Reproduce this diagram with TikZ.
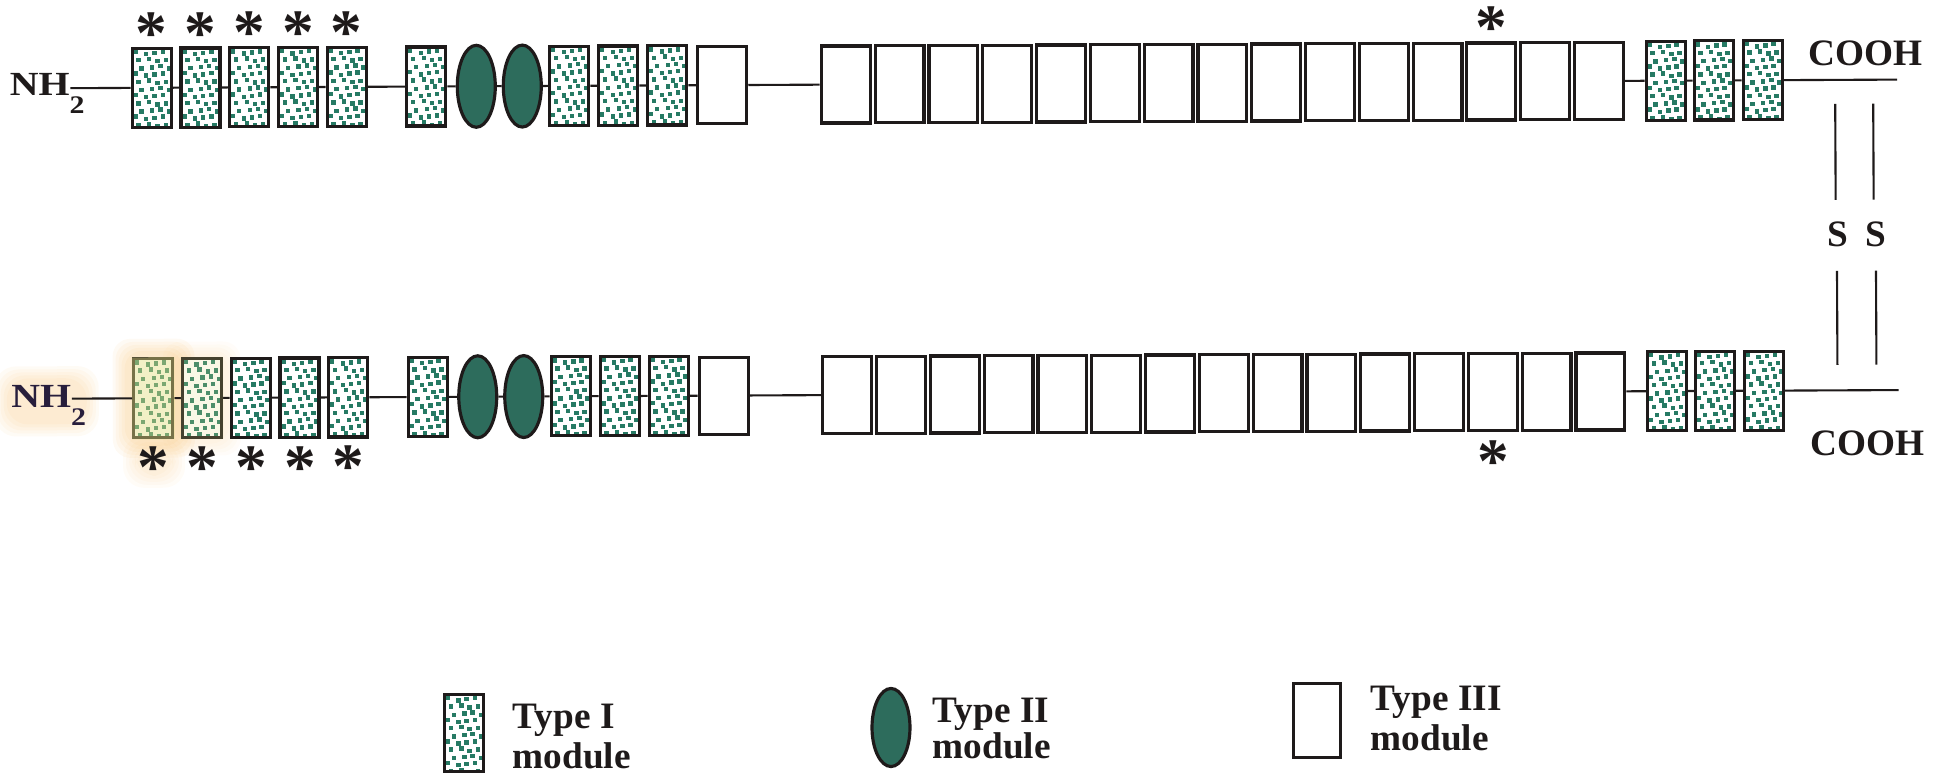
\documentclass[tikz,border=0pt]{standalone}
\usepackage{graphicx}
\usepackage{fontspec}
\setmainfont{Liberation Serif}
\usetikzlibrary{shapes.geometric}

\definecolor{modteal}{RGB}{45,108,92}
\definecolor{dotteal}{RGB}{38,122,100}
\definecolor{ink}{RGB}{30,26,26}
\definecolor{glowc}{RGB}{245,170,60}
\definecolor{tintc}{RGB}{228,222,130}

\tikzset{
  tone/.style={draw=ink, line width=0.9pt, fill=white, inner sep=0pt,
    minimum width=11.1pt, minimum height=22.5pt,
    path picture={
      \foreach \ii in {0,...,10}{
        \foreach \jj in {0,...,3}{
          \pgfmathsetmacro\dx{0.2845*(2+9*\jj+3*mod(\ii,3)+0.8*(mod(3*\ii+5*\jj,3)-1))}
          \pgfmathsetmacro\dy{0.2845*(2.5+7.2*\ii+1.1*(mod(\ii+2*\jj,3)-1))}
          \fill[dotteal] ([xshift=\dx pt,yshift=-\dy pt]path picture bounding box.north west)
            rectangle ++(1.25pt,-1.25pt);
        }}
    }},
  ttwo/.style={ellipse, draw=ink, line width=0.9pt, fill=modteal, inner sep=0pt,
    minimum width=10.8pt, minimum height=23.3pt},
  tthree/.style={draw=ink, line width=0.9pt, fill=white, inner sep=0pt,
    minimum width=13.9pt, minimum height=21.9pt},
  link/.style={draw=ink, line width=0.6pt},
  lbl/.style={text=ink, inner sep=0pt, font=\fontsize{10.6}{12}\selectfont\bfseries},
  nhlbl/.style={text=ink, inner sep=0pt, anchor=base east, font=\fontsize{9.6}{11}\selectfont\bfseries},
  star/.style={text=ink, inner sep=0pt, anchor=base, font=\fontsize{18}{18}\selectfont\bfseries},
}

% one fibronectin strand: #1 name prefix, #2 strand height, #3 asterisk row
\newcommand\fnstrand[3]{%
  \foreach \i in {1,...,5}{\node[tone] (#1a\i) at ({152.5+48.75*(\i-1)},#2) {};}
  \node[tone] (#1a6) at (427,#2) {};
  \node[ttwo] (#1e1) at (477,#2) {};
  \node[ttwo] (#1e2) at (523,#2) {};
  \foreach \i/\x in {7/570,8/619,9/668}{\node[tone] (#1a\i) at (\x,#2) {};}
  \node[tthree] (#1c0) at (723,#2) {};
  \foreach \i in {1,...,15}{\node[tthree] (#1c\i) at ({846.5+53.8*(\i-1)},#2) {};}
  \foreach \i/\x in {10/1666.5,11/1714.5,12/1763.5}{\node[tone] (#1a\i) at (\x,#2) {};}
  \coordinate (#1end) at (1898,#2);
  \foreach \p/\q in {a1/a2,a2/a3,a3/a4,a4/a5,a5/a6,a6/e1,e1/e2,e2/a7,a7/a8,a8/a9,
                     a9/c0,c0/c1,c15/a10,a10/a11,a11/a12,a12/end}
    {\draw[link] (#1\p) -- (#1\q);}
  \foreach \i in {1,...,5}{\node[star] (#1s\i) at ({152.5+48.75*(\i-1)},{#3+29}) {*};}
  \node[star] (#1s6) at (1492.1,{#3+29}) {*};
}

\begin{document}
\begin{tikzpicture}[x=0.01cm,y=-0.01cm]
\useasboundingbox (0,0) rectangle (1944,775);

\begin{scope}[rotate around={0.27:(960,240)}]
  % upper chain
  \fnstrand{t}{84}{21.5}
  \node[nhlbl] (tnh) at (71,91)
    {\scalebox{1.18}[1]{NH\rlap{\raisebox{-5.3pt}{\fontsize{7.2}{8}\selectfont 2}}}};
  \draw[link] (ta1) -- (ta1 -| tnh.east);
  \node[lbl, anchor=base west] (tcooh) at (1809,69) {COOH};

  % soft highlight round the lower N-terminus
  \foreach \k in {0,...,4}{
    \fill[glowc, opacity=0.05, rounded corners=6pt] ({6-3*\k},{374-3*\k}) rectangle ({86+3*\k},{420+3*\k});
    \fill[glowc, opacity=0.06, rounded corners=5pt] ({124-3*\k},{347-3*\k}) rectangle ({182+3*\k},{442+3*\k});
    \fill[glowc, opacity=0.03, rounded corners=5pt] ({174-3*\k},{350-3*\k}) rectangle ({228+3*\k},{440+3*\k});
    \fill[glowc, opacity=0.04, rounded corners=6pt] ({134-3*\k},{444-3*\k}) rectangle ({172+3*\k},{472+3*\k});
  }

  % lower chain
  \fnstrand{b}{394.5}{456}
  \fill[tintc, opacity=0.45] (ba1.south west) rectangle (ba1.north east);
  \fill[tintc, opacity=0.2] (ba2.south west) rectangle (ba2.north east);
  \node[nhlbl, text={rgb,255:red,40;green,30;blue,60}] (bnh) at (71,403)
    {\scalebox{1.18}[1]{NH\rlap{\raisebox{-5.3pt}{\fontsize{7.2}{8}\selectfont 2}}}};
  \draw[link] (ba1) -- (ba1 -| bnh.east);
  \node[lbl, anchor=base west] (bcooh) at (1809,459) {COOH};

  % interchain disulfide bonds
  \coordinate (sa1) at (1836,108);  \coordinate (sa2) at (1836,204);
  \coordinate (sb1) at (1874,108);  \coordinate (sb2) at (1874,204);
  \coordinate (sc1) at (1837,275);  \coordinate (sc2) at (1837,369);
  \coordinate (sd1) at (1876,275);  \coordinate (sd2) at (1876,369);
  \draw[link] (sa1) -- (sa2);
  \draw[link] (sb1) -- (sb2);
  \draw[link] (sc1) -- (sc2);
  \draw[link] (sd1) -- (sd2);
  \node[lbl, anchor=base] (sl) at (1837.5,251) {S};
  \node[lbl, anchor=base] (sr) at (1876,251) {S};
\end{scope}

% key
\node[tone, minimum height=21.9pt] (lg1) at (464,733) {};
\node[lbl, anchor=base west] (lg1a) at (512,728) {Type I};
\node[lbl, anchor=base west] (lg1b) at (512,768) {module};
\node[ttwo, minimum height=22.2pt] (lg2) at (891,727.5) {};
\node[lbl, anchor=base west] (lg2a) at (932,722) {Type II};
\node[lbl, anchor=base west] (lg2b) at (932,758) {module};
\node[tthree, minimum width=13.4pt, minimum height=21.1pt] (lg3) at (1317,720.5) {};
\node[lbl, anchor=base west] (lg3a) at (1370,710) {Type III};
\node[lbl, anchor=base west] (lg3b) at (1370,750) {module};
\end{tikzpicture}
\end{document}
